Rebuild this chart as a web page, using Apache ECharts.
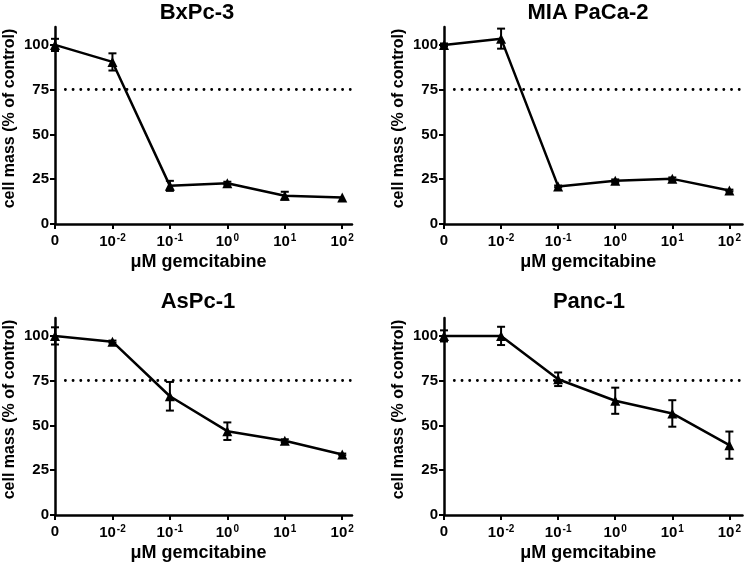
<!DOCTYPE html>
<html>
<head>
<meta charset="utf-8">
<script src="https://cdn.jsdelivr.net/npm/echarts@6/dist/echarts.min.js"></script>
<style>html,body{margin:0;padding:0;background:#fff}#c{width:744px;height:564px}</style>
</head>
<body>
<div id="c"></div>
<script>
// ---- data ----
const panelTitles = ['BxPc-3', 'MIA PaCa-2', 'AsPc-1', 'Panc-1'];
const doseExponents = [null, '-2', '-1', '0', '1', '2'];   // tick labels: 0, 10^-2 ... 10^2
const yTicks = [0, 25, 50, 75, 100];
const threshold = 75;
const xAxisName = 'μM gemcitabine';
const yAxisName = 'cell mass (% of control)';

const bxpc3Mean = [100, 90.5, 21.3, 22.8, 15.8, 14.8];
const bxpc3Err  = [3.4, 4.8, 2.8, 0.8, 2.2, 0];
const miaMean   = [100, 103.5, 21.0, 24.1, 25.2, 18.7];
const miaErr    = [0.8, 5.6, 0.5, 0.8, 0.8, 0.5];
const aspcMean  = [100, 96.8, 66.3, 46.8, 41.5, 33.8];
const aspcErr   = [4.8, 0.6, 8.0, 4.9, 0.8, 0.5];
const panc1Mean = [100, 100, 75.8, 63.8, 56.7, 39.0];
const panc1Err  = [3.1, 5.1, 3.8, 7.3, 7.4, 7.6];

const means = [bxpc3Mean, miaMean, aspcMean, panc1Mean];
const errs  = [bxpc3Err, miaErr, aspcErr, panc1Err];

// ---- layout ----
const FONT = 'Liberation Sans';
const grids = [
  {left: 55,  top: 27,  width: 297, height: 197},
  {left: 444, top: 27,  width: 300, height: 197},
  {left: 55,  top: 318, width: 297, height: 197},
  {left: 444, top: 318, width: 300, height: 197}
];
const xMaxes = [5.17, 5.23, 5.17, 5.23];
const titlePos = [[197, 13], [588, 13], [198, 302], [589, 302]];

const xIdx = doseExponents.map((_, i) => i);

const xAxes = grids.map((g, k) => ({
  type: 'value', gridIndex: k, min: 0, max: xMaxes[k],
  name: xAxisName, nameLocation: 'middle', nameGap: 29,
  nameTextStyle: {fontFamily: FONT, fontWeight: 'bold', fontSize: 18, color: '#000', padding: [0, 10, 0, 0]},
  axisLine: {show: true, onZero: false, lineStyle: {color: '#000', width: 2.5}},
  axisTick: {show: true, length: 5, lineStyle: {color: '#000', width: 2}, customValues: xIdx},
  splitLine: {show: false},
  axisLabel: {
    customValues: xIdx, margin: 9, color: '#000',
    fontFamily: FONT, fontWeight: 'bold', fontSize: 15,
    formatter: v => {
      const e = doseExponents[Math.round(v)];
      return e == null ? '0' : '10{sup|' + e + '}';
    },
    rich: {sup: {fontFamily: FONT, fontWeight: 'bold', fontSize: 10, color: '#000', padding: [0, 0, 8, 1]}}
  }
}));

const yAxes = grids.map((g, k) => ({
  type: 'value', gridIndex: k, min: 0, max: 110,
  name: yAxisName, nameLocation: 'middle', nameGap: 37,
  nameTextStyle: {fontFamily: FONT, fontWeight: 'bold', fontSize: 16, color: '#000', padding: [0, 0, 0, 14]},
  axisLine: {show: true, lineStyle: {color: '#000', width: 2.5}},
  axisTick: {show: true, length: 5, lineStyle: {color: '#000', width: 2}, customValues: yTicks},
  splitLine: {show: false},
  axisLabel: {customValues: yTicks, margin: 6, color: '#000', fontFamily: FONT, fontWeight: 'bold', fontSize: 15}
}));

const series = [];
means.forEach((m, k) => {
  series.push({
    type: 'custom', xAxisIndex: k, yAxisIndex: k, silent: true, z: 3,
    data: m.map((v, i) => [i, v - errs[k][i], v + errs[k][i]]),
    renderItem: (params, api) => {
      const x = api.value(0), lo = api.value(1), hi = api.value(2);
      if (hi - lo < 0.01) return null;
      const t = api.coord([x, hi]), b = api.coord([x, lo]);
      const hw = 4, st = {stroke: '#000', lineWidth: 2};
      return {type: 'group', children: [
        {type: 'line', shape: {x1: t[0], y1: t[1], x2: b[0], y2: b[1]}, style: st},
        {type: 'line', shape: {x1: t[0] - hw, y1: t[1], x2: t[0] + hw, y2: t[1]}, style: st},
        {type: 'line', shape: {x1: b[0] - hw, y1: b[1], x2: b[0] + hw, y2: b[1]}, style: st}
      ]};
    }
  });
  series.push({
    type: 'line', xAxisIndex: k, yAxisIndex: k, z: 4,
    data: m.map((v, i) => [i, v]),
    symbol: 'triangle', symbolSize: 10, showSymbol: true,
    itemStyle: {color: '#000'},
    lineStyle: {color: '#000', width: 2.5},
    markLine: {
      silent: true, symbol: ['none', 'none'], label: {show: false}, animation: false,
      lineStyle: {color: '#000', width: 2.8, type: [0.1, 7.6], cap: 'round'},
      data: [[{coord: [0.18, threshold]}, {coord: [xMaxes[k] - 0.03, threshold]}]]
    }
  });
});

const chart = echarts.init(document.getElementById('c'), null, {renderer: 'canvas'});
chart.setOption({
  animation: false,
  backgroundColor: '#fff',
  grid: grids,
  xAxis: xAxes,
  yAxis: yAxes,
  series: series,
  graphic: panelTitles.map((t, k) => ({
    type: 'text', x: titlePos[k][0], y: titlePos[k][1],
    style: {text: t, fill: '#000', font: 'bold 22px "' + FONT + '"', textAlign: 'center', textVerticalAlign: 'middle'}
  }))
});
</script>
</body>
</html>
